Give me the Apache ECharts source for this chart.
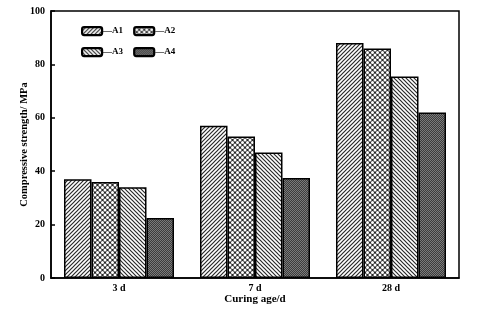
<!DOCTYPE html>
<html><head><meta charset="utf-8">
<script src="https://cdn.jsdelivr.net/npm/echarts@6/dist/echarts.min.js"></script>
<style>html,body{margin:0;padding:0;background:#fff}#c{width:480px;height:311px}</style>
</head><body><div id="c"></div>
<script>
const categories = ['3 d', '7 d', '28 d'];
const seriesNames = ['A1', 'A2', 'A3', 'A4'];
const A1 = [37, 57, 88];
const A2 = [36, 53, 86];
const A3 = [34, 47, 75.5];
const A4 = [22.5, 37.5, 62];
const yTicks = [0, 20, 40, 60, 80, 100];

function mk(w, h, draw) {
  const c = document.createElement('canvas');
  c.width = w; c.height = h;
  const g = c.getContext('2d');
  draw(g, w, h);
  return { image: c, repeat: 'repeat' };
}
function diag(g, w, h, flip) {
  g.fillStyle = '#fff'; g.fillRect(0, 0, w, h);
  g.strokeStyle = '#2a2a2a'; g.lineWidth = 1.2;
  g.beginPath();
  for (let k = -1; k <= 1; k++) {
    if (!flip) { g.moveTo(-1 + k * w, h + 1); g.lineTo(w + 1 + k * w, -1); }
    else { g.moveTo(-1 + k * w, -1); g.lineTo(w + 1 + k * w, h + 1); }
  }
  g.stroke();
}
const pat1 = mk(4, 4, (g, w, h) => diag(g, w, h, false));
const pat3 = mk(4, 4, (g, w, h) => diag(g, w, h, true));
const pat2 = mk(5, 5, (g, w, h) => {
  g.fillStyle = '#2a2a2a'; g.fillRect(0, 0, w, h);
  g.fillStyle = '#fff';
  [[2.5, 2.5], [0, 0], [5, 0], [0, 5], [5, 5]].forEach(p => {
    g.beginPath(); g.arc(p[0], p[1], 1.5, 0, Math.PI * 2); g.fill();
  });
});
const pat4 = mk(2, 2, (g, w, h) => {
  g.fillStyle = '#3c3c3c'; g.fillRect(0, 0, w, h);
  g.fillStyle = '#7a7a7a'; g.fillRect(0, 0, 1, 1); g.fillRect(1, 1, 1, 1);
});
const pats = [pat1, pat2, pat3, pat4];
const vals = [A1, A2, A3, A4];

const font = 'Liberation Serif';
const chart = echarts.init(document.getElementById('c'), null, { renderer: 'canvas' });
const legendCommon = {
  icon: 'roundRect', itemWidth: 20, itemHeight: 8, itemGap: 10,
  formatter: '—{name}',
  textStyle: { fontFamily: font, fontWeight: 'bold', fontSize: 9, color: '#000', padding: [0,0,0,-4] },
  itemStyle: { borderColor: '#000', borderWidth: 2.2 }
};
chart.setOption({
  animation: false,
  backgroundColor: '#fff',
  legend: [
    Object.assign({ data: ['A1', 'A2'], left: 76, top: 21 }, legendCommon),
    Object.assign({ data: ['A3', 'A4'], left: 76, top: 42 }, legendCommon)
  ],
  grid: { left: 51, right: 21, top: 11, bottom: 33, containLabel: false, outerBoundsMode: 'none',
    show: true, borderColor: '#000', borderWidth: 1.5, backgroundColor: 'transparent' },
  xAxis: {
    type: 'category', data: categories,
    name: 'Curing age/d', nameLocation: 'middle', nameGap: 16,
    nameMoveOverlap: false,
    nameTextStyle: { fontFamily: font, fontWeight: 'bold', fontSize: 11, color: '#000' },
    axisLine: { lineStyle: { color: '#000', width: 1.5 } },
    axisTick: { show: false },
    axisLabel: { fontFamily: font, fontWeight: 'bold', fontSize: 10, color: '#000', margin: 5 }
  },
  yAxis: {
    type: 'value', min: 0, max: 100, interval: 20,
    name: 'Compressive strength/ MPa', nameLocation: 'middle', nameGap: 21,
    nameMoveOverlap: false,
    nameTextStyle: { fontFamily: font, fontWeight: 'bold', fontSize: 10.5, color: '#000' },
    axisLine: { show: true, lineStyle: { color: '#000', width: 1.5 } },
    axisTick: { show: true, inside: true, length: 4, lineStyle: { color: '#000', width: 1.5 } },
    splitLine: { show: false },
    axisLabel: { fontFamily: font, fontWeight: 'bold', fontSize: 10, color: '#000', margin: 6,
      formatter: v => yTicks.includes(v) ? String(v) : '' }
  },
  series: seriesNames.map((n, i) => ({
    name: n, type: 'bar', data: vals[i], barWidth: 27.5, barGap: '0%',
    itemStyle: { color: pats[i], borderColor: '#000', borderWidth: 1.5 }
  }))
});
</script></body></html>
